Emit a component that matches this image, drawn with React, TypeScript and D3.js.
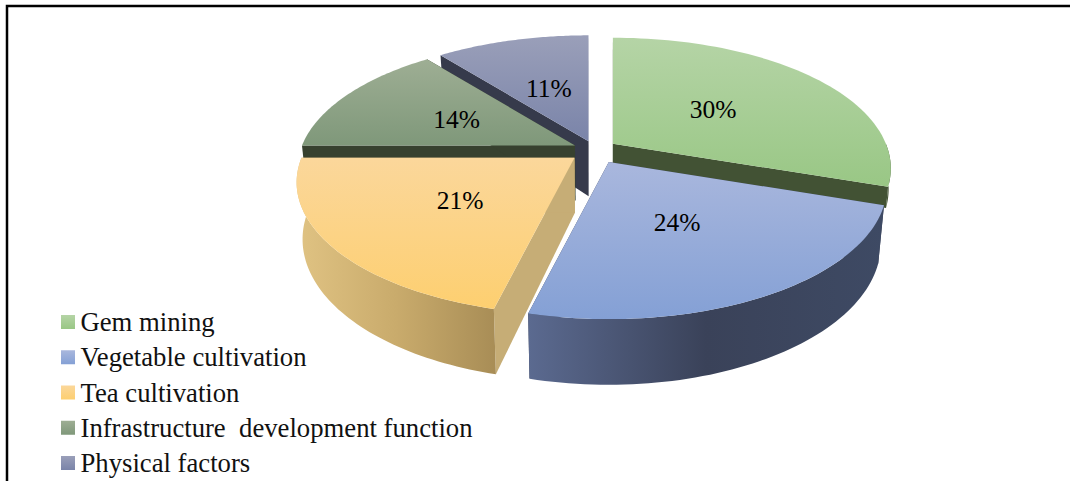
import { useEffect, useRef } from "react";
import * as d3 from "d3";

const categories = [
  "Gem mining",
  "Vegetable cultivation",
  "Tea cultivation",
  "Infrastructure  development function",
  "Physical factors",
];
const shares = [30, 24, 21, 14, 11];
const explode = [0.081, 0.105, 0.095, 0.081, 0.07];
const labelRadius = [0.48, 0.48, 0.5, 0.5, 0.47];
// green's wall is mostly hidden behind the blue slice
const wallDepth = [20, 55, 55, 55, 55];

// top face gradient (top -> bottom) and legend colours
const topColors = [
  ["#b5d4a6", "#99c785"],
  ["#a9b7dd", "#84a0d5"],
  ["#fbd79b", "#fdcf70"],
  ["#9eae94", "#7f987a"],
  ["#9a9fb9", "#7a84a9"],
];
const edgeColors = ["#425234", "#3a4258", "#c6ad76", "#37412f", "#363a4b"];
const wallStops = [
  ["#4a5c3a", "#425234"],
  ["#5b6a90", "#3a4259", "#3e4a64"],
  ["#e0c383", "#c9ab6c", "#a88d56"],
  ["#37412f", "#37412f"],
  ["#363a4b", "#363a4b"],
];
const drawOrder = [4, 3, 0, 2, 1];

const cx = 595;
const cy = 150;
const rx = 273;
const ry = 131.5;
const persp = 0.194;
const depth = 55;
const taper = 0.02;

type Pt = [number, number];

export default function App() {
  const svgRef = useRef<SVGSVGElement>(null);

  useEffect(() => {
    const svg = d3.select(svgRef.current);
    svg.selectAll("*").remove();

    const arcs = d3.pie<number>().sort(null).value((d) => d)(shares);
    const line = d3.line<Pt>();
    const defs = svg.append("defs");

    // frame, open on the right and at the bottom
    svg.append("path")
      .attr("d", "M7,481V6H1070")
      .attr("fill", "none")
      .attr("stroke", "#000")
      .attr("stroke-width", 2.5);

    // a point of a slice: a = angle clockwise from 12 o'clock, r = 0..1, h = drop in px
    const project = (i: number, a: number, r: number, h = 0): Pt => {
      const mid = (arcs[i].startAngle + arcs[i].endAngle) / 2;
      const ax = cx + explode[i] * rx * Math.sin(mid);
      const ay = cy - explode[i] * ry * Math.cos(mid);
      const z = -Math.cos(a) * r;
      const s = 1 + persp * z;
      const x = ax + rx * r * Math.sin(a) * s;
      // the lower rim sits further away, so it pulls in towards the middle
      return [cx + (x - cx) * (1 - (taper * h) / depth), ay + ry * z * s + h * s];
    };

    const sample = (a0: number, a1: number) =>
      d3.range(0, 61).map((k) => a0 + ((a1 - a0) * k) / 60);

    const addGradient = (id: string, stops: string[], vertical: boolean) => {
      const g = defs.append("linearGradient")
        .attr("id", id)
        .attr("x1", 0)
        .attr("y1", 0)
        .attr("x2", vertical ? 0 : 1)
        .attr("y2", vertical ? 1 : 0);
      stops.forEach((c, k) => {
        g.append("stop")
          .attr("offset", k / (stops.length - 1))
          .attr("stop-color", c);
      });
    };

    drawOrder.forEach((i) => {
      const { startAngle: a0, endAngle: a1 } = arcs[i];
      const d = wallDepth[i];
      const g = svg.append("g");
      addGradient(`top-${i}`, topColors[i], true);
      addGradient(`wall-${i}`, wallStops[i], false);

      // radial walls
      [a0, a1].forEach((a) => {
        const pts: Pt[] = [
          project(i, a, 0),
          project(i, a, 1),
          project(i, a, 1, d),
          project(i, a, 0, d),
        ];
        g.append("path").attr("d", line(pts) + "Z").attr("fill", edgeColors[i]);
      });

      // outer wall, front half only
      const w0 = Math.max(a0, Math.PI / 2);
      const w1 = Math.min(a1, (Math.PI * 3) / 2);
      if (w1 > w0) {
        const as = sample(w0, w1);
        const pts: Pt[] = [
          ...as.map((a) => project(i, a, 1)),
          ...as.slice().reverse().map((a) => project(i, a, 1, d)),
        ];
        g.append("path").attr("d", line(pts) + "Z").attr("fill", `url(#wall-${i})`);
      }

      // top face
      const topPts: Pt[] = [
        project(i, a0, 0),
        ...sample(a0, a1).map((a) => project(i, a, 1)),
      ];
      g.append("path").attr("d", line(topPts) + "Z").attr("fill", `url(#top-${i})`);
    });

    // value labels
    shares.forEach((v, i) => {
      const mid = (arcs[i].startAngle + arcs[i].endAngle) / 2;
      const [x, y] = project(i, mid, labelRadius[i]);
      svg.append("text")
        .attr("x", x)
        .attr("y", y + 9)
        .attr("text-anchor", "middle")
        .attr("font-family", "'Liberation Serif', serif")
        .attr("font-size", 25.5)
        .attr("fill", "#000")
        .text(`${v}%`);
    });

    // legend
    const legendY = d3.scaleLinear().domain([0, 4]).range([331, 472]);
    categories.forEach((name, i) => {
      const y = legendY(i);
      svg.append("rect")
        .attr("x", 61)
        .attr("y", y - 16)
        .attr("width", 14)
        .attr("height", 14)
        .attr("fill", `url(#top-${i})`);
      svg.append("text")
        .attr("x", 80.5)
        .attr("y", y)
        .style("white-space", "pre")
        .attr("font-family", "'Liberation Serif', serif")
        .attr("font-size", 26.7)
        .attr("fill", "#111")
        .text(name);
    });
  }, []);

  return (
    <svg
      ref={svgRef}
      width={1070}
      height={481}
      style={{ position: "absolute", left: 0, top: 0, background: "#fff" }}
    />
  );
}
